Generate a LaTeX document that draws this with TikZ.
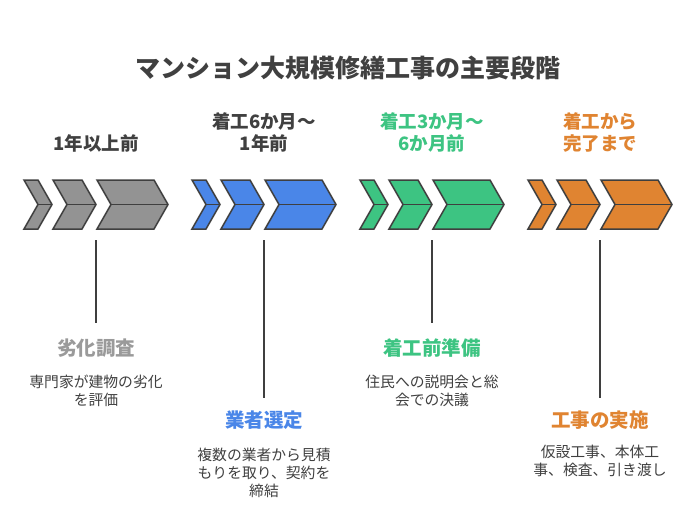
\documentclass[tikz,border=0pt]{standalone}
\usepackage{fontspec}
\newfontfamily\jp{Noto Sans CJK JP}
\definecolor{cgray}{HTML}{939393}
\definecolor{cgraytxt}{HTML}{9A9A9A}
\definecolor{cblue}{HTML}{4A86E8}
\definecolor{cgreen}{HTML}{3DC482}
\definecolor{corange}{HTML}{E08431}
\definecolor{edge}{HTML}{3F3F3F}
\definecolor{dark}{HTML}{404040}
\newcommand\chevgrp[2]{%
  \foreach \L/\R in {0/14, 29/58, 73/130}{%
    \draw[chev, fill=#2] ({#1+\L},180) -- ({#1+\R},180) -- ({#1+\R+14},204.5) -- ({#1+\R},229) -- ({#1+\L},229) -- ({#1+\L+14},204.5) -- cycle;
    \draw[chev] ({#1+\L+14},204.5) -- ({#1+\R+14},204.5);
  }%
}
\begin{document}
\begin{tikzpicture}[x=1pt,y=-1pt,
  chev/.style={draw=edge, line width=1.5pt, line join=miter},
  vline/.style={draw=edge, line width=1.6pt},
  titletxt/.style={font=\jp\bfseries\fontsize{25}{29}\selectfont, text=dark, anchor=base, inner sep=0pt},
  headtxt/.style={font=\jp\bfseries\fontsize{18.5}{22}\selectfont, anchor=base, inner sep=0pt, align=center},
  labtxt/.style={font=\jp\bfseries\fontsize{19.5}{23}\selectfont, anchor=base, inner sep=0pt},
  desctxt/.style={font=\jp\fontsize{14.8}{18}\selectfont, text=dark, anchor=base, inner sep=0pt, align=center}
]
\useasboundingbox[fill=white] (0,0) rectangle (696,514);

\node[titletxt] (title) at (348,77.5) {マンション大規模修繕工事の主要段階};

% headers (anchor = baseline of last line)
\node[headtxt, text=dark] (h1) at (96,150) {1年以上前};
\node[headtxt, text=dark] (h2) at (264,150) {着工6か月～\\1年前};
\node[headtxt, text=cgreen] (h3) at (432,150) {着工3か月～\\6か月前};
\node[headtxt, text=corange] (h4) at (600,150) {着工から\\完了まで};

% chevrons
\chevgrp{24}{cgray}
\chevgrp{192}{cblue}
\chevgrp{360}{cgreen}
\chevgrp{528}{corange}

% labels
\node[labtxt, text=cgraytxt] (l1) at (96,355.5) {劣化調査};
\node[labtxt, text=cblue] (l2) at (264,427.5) {業者選定};
\node[labtxt, text=cgreen] (l3) at (432,355.5) {着工前準備};
\node[labtxt, text=corange] (l4) at (600,427.5) {工事の実施};

\node[desctxt] (d1) at (96,405.5) {専門家が建物の劣化\\を評価};
\node[desctxt] (d2) at (264,496.5) {複数の業者から見積\\もりを取り、契約を\\締結};
\node[desctxt] (d3) at (432,405.5) {住民への説明会と総\\会での決議};
\node[desctxt] (d4) at (600,475.5) {仮設工事、本体工\\事、検査、引き渡し};

% connectors
\coordinate (g1) at (96,240);  \coordinate (e1) at (96,323);
\coordinate (g2) at (264,240); \coordinate (e2) at (264,398);
\coordinate (g3) at (432,240); \coordinate (e3) at (432,323);
\coordinate (g4) at (600,240); \coordinate (e4) at (600,398);
\draw[vline] (g1) -- (e1);
\draw[vline] (g2) -- (e2);
\draw[vline] (g3) -- (e3);
\draw[vline] (g4) -- (e4);
\end{tikzpicture}
\end{document}
